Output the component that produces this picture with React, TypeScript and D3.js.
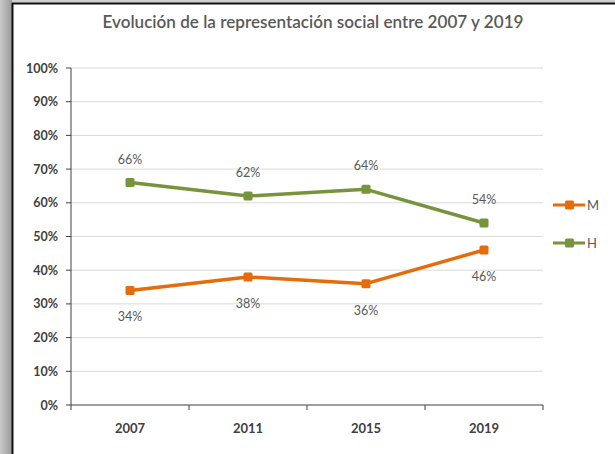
import React from "react";
import * as d3 from "d3";

const years = ["2007", "2011", "2015", "2019"];
const seriesNames = ["M", "H"];
const valuesM = [34, 38, 36, 46];
const valuesH = [66, 62, 64, 54];
const yTicks = [0, 10, 20, 30, 40, 50, 60, 70, 80, 90, 100];
const title = "Evolución de la representación social entre 2007 y 2019";

const W = 615, H = 454;
const left = 71, right = 543, top = 68, bottom = 405;
const colors: Record<string, string> = { M: "#E46C0A", H: "#77933C" };
const font = "Lato, 'Open Sans', sans-serif";

export default function App() {
  const x = d3.scaleBand<string>().domain(years).range([left, right]);
  const y = d3.scaleLinear().domain([0, 100]).range([bottom, top]);
  const line = d3.line<number>().x((_, i) => (x(years[i]) as number) + x.bandwidth() / 2).y((d) => y(d));
  const data: Record<string, number[]> = { M: valuesM, H: valuesH };
  const cx = (i: number) => (x(years[i]) as number) + x.bandwidth() / 2;

  return (
    <svg width={W} height={H} style={{ position: "absolute", left: 0, top: 0, background: "#fff" }}>
      <defs>
        <linearGradient id="frame" x1="0" x2="1" y1="0" y2="0">
          <stop offset="0" stopColor="#c8c8c8" />
          <stop offset="1" stopColor="#9a9a9a" />
        </linearGradient>
      </defs>
      <rect x={0} y={0} width={12} height={H} fill="url(#frame)" />
      <rect x={12} y={0} width={W - 12} height={3} fill="#d0d0d0" />
      <line x1={12.5} x2={12.5} y1={3} y2={H} stroke="#111" strokeWidth={2} />
      <line x1={12} x2={W} y1={3.5} y2={3.5} stroke="#111" strokeWidth={2} />
      <text x={313} y={28} textAnchor="middle" fontFamily={font} fontSize={17} fill="#595959" fontWeight={600}
        textLength={421} lengthAdjust="spacingAndGlyphs">
        {title}
      </text>
      {yTicks.map((t) => (
        <g key={t}>
          {t > 0 && <line x1={left} x2={right} y1={y(t)} y2={y(t)} stroke="#d9d9d9" strokeWidth={1} />}
          <line x1={left - 5} x2={left} y1={y(t)} y2={y(t)} stroke="#404040" />
          <text x={left - 13} y={y(t) + 4.5} textAnchor="end" fontFamily={font} fontSize={12.5} fontWeight={700} fill="#404040">
            {t}%
          </text>
        </g>
      ))}
      <line x1={left} x2={left} y1={top} y2={bottom} stroke="#404040" />
      <line x1={left} x2={right} y1={bottom} y2={bottom} stroke="#404040" />
      {[...years.map((yr) => x(yr) as number), right].map((px, i) => (
        <line key={i} x1={px} x2={px} y1={bottom} y2={bottom + 5} stroke="#404040" />
      ))}
      {years.map((yr, i) => (
        <text key={yr} x={cx(i)} y={bottom + 28} textAnchor="middle" fontFamily={font} fontSize={13} fontWeight={700} fill="#404040">
          {yr}
        </text>
      ))}
      {seriesNames.map((s) => (
        <g key={s}>
          <path d={line(data[s]) as string} fill="none" stroke={colors[s]} strokeWidth={3.5} strokeLinejoin="round" />
          {data[s].map((v, i) => (
            <rect key={i} x={cx(i) - 4.5} y={y(v) - 4.5} width={9} height={9} rx={1.5} fill={colors[s]} />
          ))}
          {data[s].map((v, i) => (
            <text key={"l" + i} x={cx(i)} y={s === "H" ? y(v) - 19 : y(v) + 31} textAnchor="middle" fontFamily={font} fontSize={12.5} fill="#595959">
              {v}%
            </text>
          ))}
        </g>
      ))}
      {seriesNames.map((s, i) => {
        const ly = 205 + i * 38;
        return (
          <g key={"leg" + s}>
            <line x1={553} x2={585} y1={ly} y2={ly} stroke={colors[s]} strokeWidth={3} />
            <rect x={565} y={ly - 4.5} width={9} height={9} rx={1.5} fill={colors[s]} />
            <text x={587} y={ly + 5} fontFamily={font} fontSize={13} fill="#595959">
              {s}
            </text>
          </g>
        );
      })}
    </svg>
  );
}
